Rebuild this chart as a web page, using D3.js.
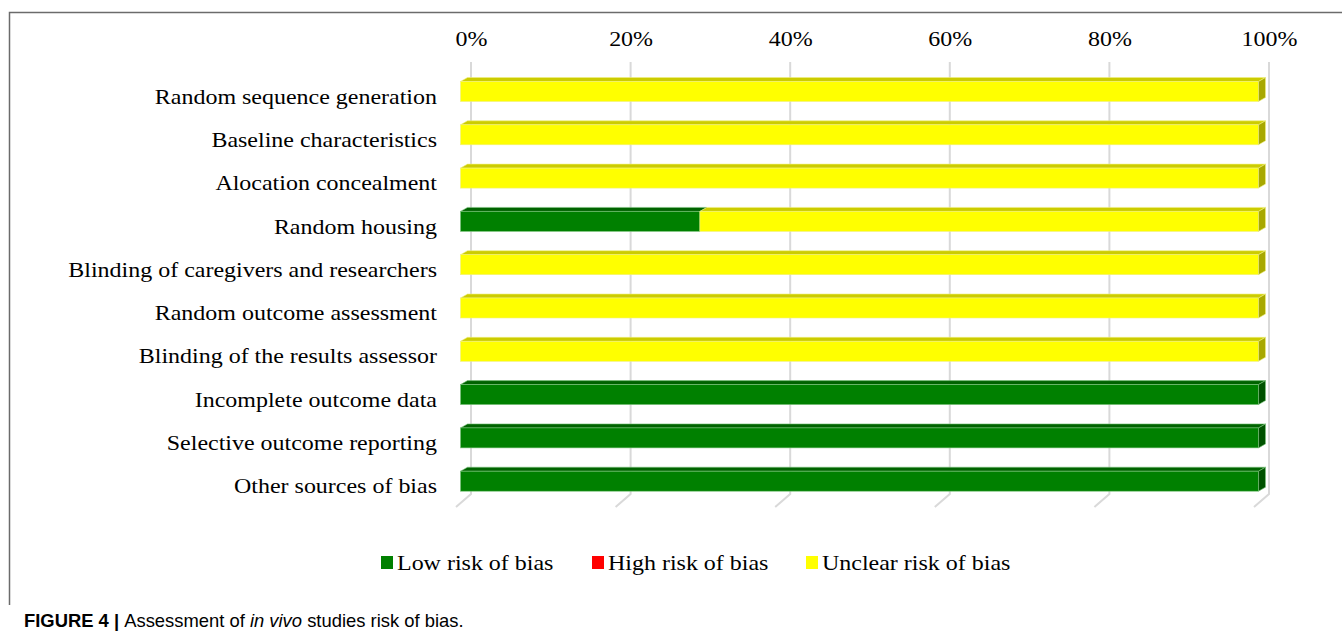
<!DOCTYPE html>
<html><head><meta charset="utf-8">
<script src="https://cdn.jsdelivr.net/npm/d3@7"></script>
<style>
html,body{margin:0;padding:0;background:#fff;}
svg{display:block;}
</style></head>
<body>
<svg id="chart" width="1342" height="635"></svg>
<script>
const categories = [
  "Random sequence generation",
  "Baseline characteristics",
  "Alocation concealment",
  "Random housing",
  "Blinding of caregivers and researchers",
  "Random outcome assessment",
  "Blinding of the results assessor",
  "Incomplete outcome data",
  "Selective outcome reporting",
  "Other sources of bias"
];
const seriesNames = ["Low risk of bias", "High risk of bias", "Unclear risk of bias"];
const lowRisk     = [0, 0, 0, 30, 0, 0, 0, 100, 100, 100];
const highRisk    = [0, 0, 0, 0, 0, 0, 0, 0, 0, 0];
const unclearRisk = [100, 100, 100, 70, 100, 100, 100, 0, 0, 0];
const tickValues  = [0, 20, 40, 60, 80, 100];
const tickLabels  = ["0%", "20%", "40%", "60%", "80%", "100%"];

const colors = {
  front: ["#008000", "#ff0000", "#ffff00"],
  top:   ["#006300", "#c00000", "#cccc00"],
  side:  ["#005200", "#a00000", "#a8a800"],
  edge:  ["#7cc47c", "#ff9090", "#f0f080"]
};
const serif = "'Liberation Serif','Times New Roman',serif";
const stretch = 1.09;

const svg = d3.select("#chart");
const x = d3.scaleLinear().domain([0, 100]).range([471, 1269]);
const y = d3.scaleBand().domain(categories).range([69.85, 502.85]).padding(0);

// frame
svg.append("path").attr("d", "M9.5,605 L9.5,12.5 L1342,12.5")
  .attr("fill", "none").attr("stroke", "#6b6b6b").attr("stroke-width", 1.5);

// gridlines with floor projection
const gridTop = 62, gridBot = 494;
tickValues.forEach(v => {
  const gx = x(v);
  svg.append("path")
    .attr("d", `M${gx},${gridTop} L${gx},${gridBot} L${gx-15},${gridBot+13}`)
    .attr("fill", "none").attr("stroke", "#d9d9d9").attr("stroke-width", 2);
});

// top axis labels
const axis = d3.axisTop(x).tickValues(tickValues).tickFormat((d, i) => tickLabels[i]).tickSize(0).tickPadding(0);
const ag = svg.append("g").attr("transform", "translate(0,46)").call(axis);
ag.select(".domain").remove();
ag.selectAll("text").attr("font-family", serif)
  .attr("font-size", 22).attr("fill", "#000").attr("dy", 0)
  .attr("transform", `scale(${stretch},1)`);

// category labels
svg.append("g").selectAll("text").data(categories).join("text")
  .attr("transform", d => `translate(437,${y(d) + y.bandwidth() / 2 + 4.5}) scale(${stretch},1)`)
  .attr("text-anchor", "end").attr("dominant-baseline", "central")
  .attr("font-family", serif)
  .attr("font-size", 22).attr("fill", "#000").text(d => d);

// stacked 3D bars
const stackData = categories.map((c, i) => ({cat: c, s0: lowRisk[i], s1: highRisk[i], s2: unclearRisk[i]}));
const stacked = d3.stack().keys(["s0", "s1", "s2"])(stackData);
const frontOff = -10.5, dx = 7, dy = 4, h = 20;

const barG = svg.append("g");
stacked.forEach((layer, si) => {
  layer.forEach((seg, ri) => {
    const v0 = seg[0], v1 = seg[1];
    if (v1 - v0 <= 0) return;
    const cat = categories[ri];
    const cy = y(cat) + y.bandwidth() / 2;
    const x0 = x(v0) + frontOff, x1 = x(v1) + frontOff;
    const top = cy - h / 2, bot = cy + h / 2;
    const g = barG.append("g");
    g.append("path").attr("d", `M${x0},${top} L${x0+dx},${top-dy} L${x1+dx},${top-dy} L${x1},${top} Z`)
      .attr("fill", colors.top[si]).attr("stroke", colors.edge[si]).attr("stroke-width", 0.6);
    g.append("rect").attr("x", x0).attr("y", top).attr("width", x1 - x0).attr("height", h)
      .attr("fill", colors.front[si]).attr("stroke", colors.edge[si]).attr("stroke-width", 0.6);
    if (v1 >= 100) {
      g.append("path").attr("d", `M${x1},${top} L${x1+dx},${top-dy} L${x1+dx},${bot-dy} L${x1},${bot} Z`)
        .attr("fill", colors.side[si]).attr("stroke", colors.edge[si]).attr("stroke-width", 0.6);
    }
  });
});

// legend
const legendX = [381, 592, 806];
const lg = svg.append("g");
seriesNames.forEach((n, i) => {
  lg.append("rect").attr("x", legendX[i]).attr("y", 556).attr("width", 12).attr("height", 13)
    .attr("fill", colors.front[i]);
  lg.append("text").attr("transform", `translate(${legendX[i] + 16},570) scale(${stretch},1)`)
    .attr("font-family", serif)
    .attr("font-size", 22).attr("fill", "#000").text(n);
});

// caption
const cap = svg.append("text").attr("x", 24).attr("y", 627)
  .attr("font-family", "'Liberation Sans',Arial,sans-serif").attr("font-size", 18.4).attr("fill", "#000");
cap.append("tspan").attr("font-weight", "bold").text("FIGURE 4 | ");
cap.append("tspan").text("Assessment of ");
cap.append("tspan").attr("font-style", "italic").text("in vivo");
cap.append("tspan").text(" studies risk of bias.");
</script>
</body></html>
